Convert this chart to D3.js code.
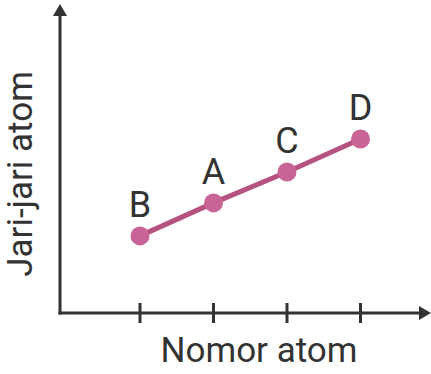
<!DOCTYPE html>
<html><head><meta charset="utf-8">
<script src="https://cdn.jsdelivr.net/npm/d3@7"></script>
<style>html,body{margin:0;padding:0;background:#fff;}svg{display:block;}</style>
</head><body>
<script>
const categories = ["B", "A", "C", "D"];
const positions = [1, 2, 3, 4];
const values = [2.57, 3.67, 4.7, 5.8];
const xTitle = "Nomor atom";
const yTitle = "Jari-jari atom";

const W = 431, H = 374;
const svg = d3.select("body").append("svg").attr("width", W).attr("height", H);
const axisColor = "#333333";
const x = d3.scaleLinear().domain([0, 5]).range([66.5, 434]);
const y = d3.scaleLinear().domain([0, 10]).range([313, 13]);
const x0 = 60, y0 = 313;

// axes
svg.append("line").attr("x1", x0).attr("x2", x0).attr("y1", y0 + 1.5).attr("y2", 14)
  .attr("stroke", axisColor).attr("stroke-width", 3);
svg.append("line").attr("x1", x0 - 1.5).attr("x2", 421).attr("y1", y0).attr("y2", y0)
  .attr("stroke", axisColor).attr("stroke-width", 3);
svg.append("path").attr("d", `M${x0},4 L${x0-7},16 L${x0+7},16 Z`).attr("fill", axisColor);
svg.append("path").attr("d", `M431,${y0} L419,${y0-7} L419,${y0+7} Z`).attr("fill", axisColor);

// ticks
svg.selectAll(".tick").data(positions).enter().append("line")
  .attr("x1", d => x(d)).attr("x2", d => x(d)).attr("y1", y0 - 10).attr("y2", y0 + 10)
  .attr("stroke", axisColor).attr("stroke-width", 3);

const pts = positions.map((p, i) => ({x: p, y: values[i], c: categories[i]}));
svg.append("path").datum(pts)
  .attr("d", d3.line().x(d => x(d.x)).y(d => y(d.y)))
  .attr("fill", "none").attr("stroke", "#b5527f").attr("stroke-width", 5);
svg.selectAll(".dot").data(pts).enter().append("circle")
  .attr("cx", d => x(d.x)).attr("cy", d => y(d.y)).attr("r", 9.5).attr("fill", "#c96496");
svg.selectAll(".lbl").data(pts).enter().append("text")
  .attr("x", d => x(d.x)).attr("y", d => y(d.y) - 19)
  .attr("text-anchor", "middle").attr("font-family", "Roboto").attr("font-size", 36)
  .attr("fill", axisColor).text(d => d.c);

svg.append("text").attr("x", 259).attr("y", 362).attr("text-anchor", "middle")
  .attr("font-family", "Roboto").attr("font-size", 35).attr("fill", axisColor).text(xTitle);
svg.append("text").attr("transform", "translate(32,174) rotate(-90)").attr("text-anchor", "middle")
  .attr("font-family", "Roboto").attr("font-size", 35).attr("fill", axisColor).text(yTitle);
</script>
</body></html>
